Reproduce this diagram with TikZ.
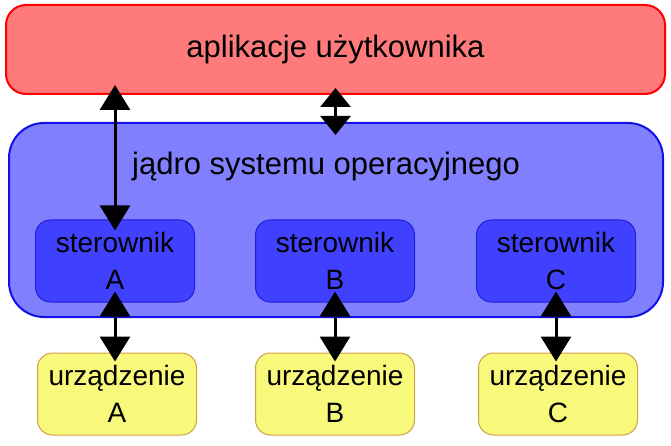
\documentclass[tikz,border=0pt]{standalone}
\usepackage{fontspec}
\setmainfont{Liberation Sans}
\usetikzlibrary{arrows.meta}
\definecolor{appfill}{RGB}{255,122,122}
\definecolor{appline}{RGB}{255,0,0}
\definecolor{kerfill}{RGB}{128,128,255}
\definecolor{kerline}{RGB}{16,16,235}
\definecolor{drvfill}{RGB}{64,64,255}
\definecolor{drvline}{RGB}{32,32,215}
\definecolor{devfill}{RGB}{248,248,122}
\definecolor{devline}{RGB}{208,160,72}
\tikzset{
  appbox/.style={draw=appline, fill=appfill, line width=2pt, rounded corners=20pt,
    minimum width=659pt, minimum height=89pt, inner sep=0pt,
    font=\fontsize{31}{37}\selectfont},
  kerbox/.style={draw=kerline, fill=kerfill, line width=2pt, rounded corners=35pt,
    minimum width=654pt, minimum height=194pt, inner sep=0pt},
  drvbox/.style={draw=drvline, fill=drvfill, line width=1pt, rounded corners=15pt,
    minimum width=159pt, minimum height=82pt, inner sep=0pt, align=center,
    font=\fontsize{28}{37}\selectfont},
  devbox/.style={draw=devline, fill=devfill, line width=1pt, rounded corners=15pt,
    minimum width=159pt, minimum height=82pt, inner sep=0pt, align=center,
    font=\fontsize{28}{37}\selectfont},
  lbl/.style={inner sep=0pt, font=\fontsize{31}{37}\selectfont},
  dbl/.style={line width=3pt, {Triangle[width=30pt,length=25pt]}-{Triangle[width=30pt,length=25pt]}},
  dblshort/.style={line width=3pt, {Triangle[width=30pt,length=19pt]}-{Triangle[width=30pt,length=19pt]}},
}
\begin{document}
\begin{tikzpicture}[x=1pt,y=-1pt]
\useasboundingbox (0,0) rectangle (671,446);
\node[appbox] (app) at (335.5,49.5) {aplikacje użytkownika};
\node[kerbox] (ker) at (336,220) {};
\node[lbl, anchor=base west] (kerlbl) at (132,175) {jądro systemu operacyjnego};
\node[drvbox] (drvA) at (115,261) {sterownik\\A};
\node[drvbox] (drvB) at (335,261) {sterownik\\B};
\node[drvbox] (drvC) at (556,261) {sterownik\\C};
\node[devbox] (devA) at (117,394) {urządzenie\\A};
\node[devbox] (devB) at (335,394) {urządzenie\\B};
\node[devbox] (devC) at (558,394) {urządzenie\\C};
\draw[dbl, shorten <=-10pt, shorten >=-11pt] (app.south -| drvA.north) -- (drvA.north);
\draw[dblshort, shorten <=-7pt, shorten >=-13pt] (app.south) -- (app.south |- ker.north);
\draw[dbl, shorten <=-11pt, shorten >=-9pt] (drvA.south) -- (drvA.south |- devA.north);
\draw[dbl, shorten <=-11pt, shorten >=-9pt] (drvB.south) -- (drvB.south |- devB.north);
\draw[dbl, shorten <=-11pt, shorten >=-9pt] (drvC.south) -- (drvC.south |- devC.north);
\end{tikzpicture}
\end{document}
